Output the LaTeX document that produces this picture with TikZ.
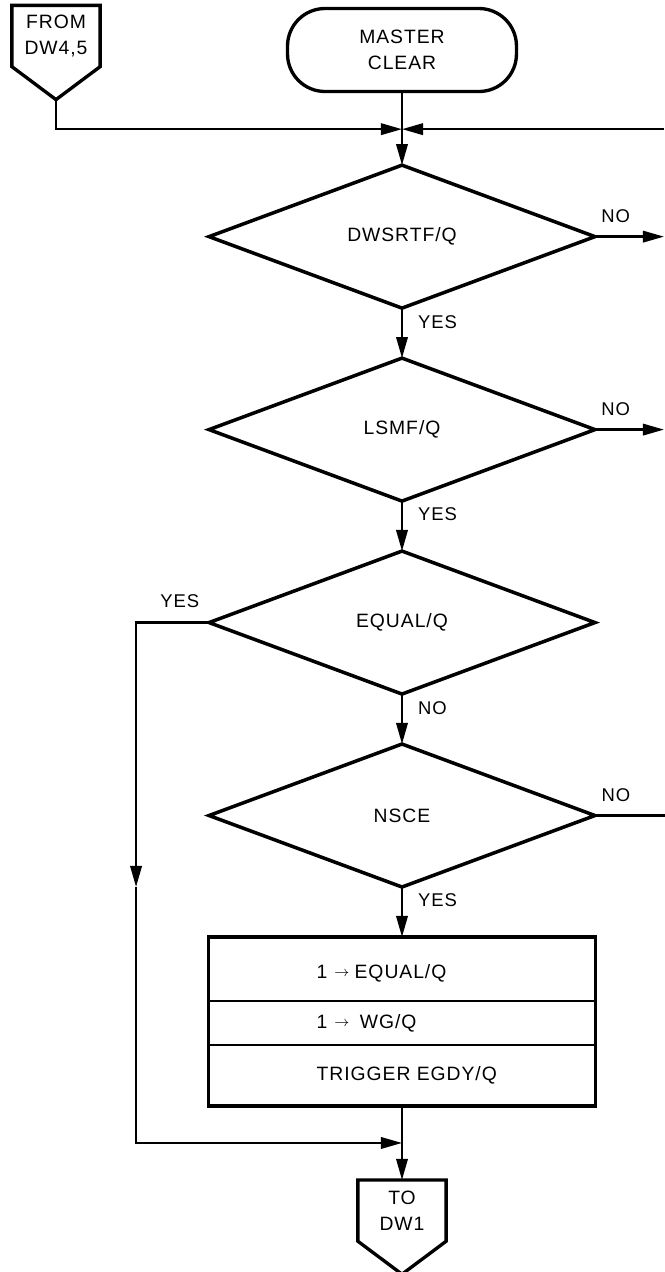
\documentclass[tikz,border=0pt]{standalone}
\usepackage{fontspec}
\setmainfont{Liberation Sans}[LetterSpace=5]
\usetikzlibrary{shapes.geometric,arrows.meta,positioning,calc}

\begin{document}
\begin{tikzpicture}[
  x=0.02cm, y=-0.02cm,
  every node/.style={font=\fontsize{11}{14.5}\selectfont},
  term/.style={rectangle, draw, line width=1.9pt, rounded corners=0.75cm,
               minimum width=4.58cm, minimum height=1.66cm, align=center},
  decision/.style={diamond, draw, line width=2pt, aspect=2.7, inner sep=0pt,
               outer sep=0pt, minimum width=7.72cm, minimum height=2.86cm},
  port/.style={rectangle, inner sep=0pt, minimum width=1.72cm,
               minimum height=1.18cm, align=center},
  row/.style={rectangle, draw, line width=1.2pt, inner sep=0pt, outer sep=0pt,
              minimum width=7.74cm},
  act/.style={anchor=west, inner sep=0pt},
  tag/.style={font=\fontsize{10.5}{12}\selectfont, inner sep=0pt},
  flow/.style={-{Triangle[length=12pt,width=6.5pt]}},
  line width=1.3pt,
  node distance=1cm,
]
  \useasboundingbox (0,0) rectangle (665,1272);

  \node[port] (fromdw) at (56,36) {FROM\\DW4,5};
  \node[term] (master) at (402,50) {MASTER\\CLEAR};
  \node[decision, below=1.44cm of master] (dwsrtf) {DWSRTF/Q};
  \node[decision, below=of dwsrtf] (lsmf) {LSMF/Q};
  \node[decision, below=of lsmf] (equal) {EQUAL/Q};
  \node[decision, below=of equal] (nsce) {NSCE};

  \node[row, minimum height=1.28cm, below=of nsce] (act1) {};
  \node[row, minimum height=0.88cm, below=0pt of act1] (act2) {};
  \node[row, minimum height=1.22cm, below=0pt of act2] (act3) {};
  \draw[line width=1.9pt] (act1.north west) rectangle (act3.south east);
  \node[act, yshift=-0.08cm] (set1) at ([xshift=2.14cm]act1.west)
    {1\hspace{4pt}\raisebox{.2ex}{\footnotesize$\rightarrow$}\hspace{3pt}EQUAL/Q};
  \node[act] (set2) at ([xshift=2.14cm]act2.west)
    {1\hspace{4pt}\raisebox{.2ex}{\footnotesize$\rightarrow$}\hspace{6pt}WG/Q};
  \node[act] (trig) at ([xshift=2.14cm]act3.west) {TRIGGER EGDY/Q};

  \node[port, below=1.48cm of act3] (todw) {TO\\DW1};

  % off-page connectors
  \foreach \p in {fromdw, todw}
    \draw[line width=1.9pt] (\p.north west) -- (\p.north east) -- (\p.south east)
      -- ([yshift=-0.66cm]\p.south) coordinate (\p tip) -- (\p.south west) -- cycle;

  \coordinate (rightedge) at (664,0);
  \coordinate (join) at ($(master.south)!0.5!(dwsrtf.north)$);
  \coordinate (merge) at ($(act3.south)!0.5!(todw.north)$);
  \coordinate[left=1.46cm of equal.west] (yescorner);

  \draw[flow] (master) -- (dwsrtf);
  \draw[flow] (fromdwtip) |- (join);
  \draw[flow] (join -| rightedge) -- (join);

  \draw[flow] (dwsrtf) -- node[tag, right=0.3cm, pos=0.28] {YES} (lsmf);
  \draw[flow] (lsmf) -- node[tag, right=0.3cm, pos=0.26] {YES} (equal);
  \draw[flow] (equal) -- node[tag, right=0.3cm, pos=0.28] {NO} (nsce);
  \draw[flow] (nsce) -- node[tag, right=0.3cm, pos=0.26] {YES} (act1);

  \draw[flow] (dwsrtf.east) -- node[tag, above=0.25cm, pos=0.3] {NO} (dwsrtf -| rightedge);
  \draw[flow] (lsmf.east) -- node[tag, above=0.25cm, pos=0.3] {NO} (lsmf -| rightedge);
  \draw (nsce.east) -- node[tag, above=0.25cm, pos=0.3] {NO} (nsce -| 665,0);

  \draw[flow] (equal.west) -- node[tag, above=0.28cm, pos=0.4] {YES} (yescorner)
    -- (yescorner |- nsce.south);
  \draw[flow] (yescorner |- nsce.south) |- (merge);
  \draw[flow] (act3) -- (todw);
\end{tikzpicture}
\end{document}
